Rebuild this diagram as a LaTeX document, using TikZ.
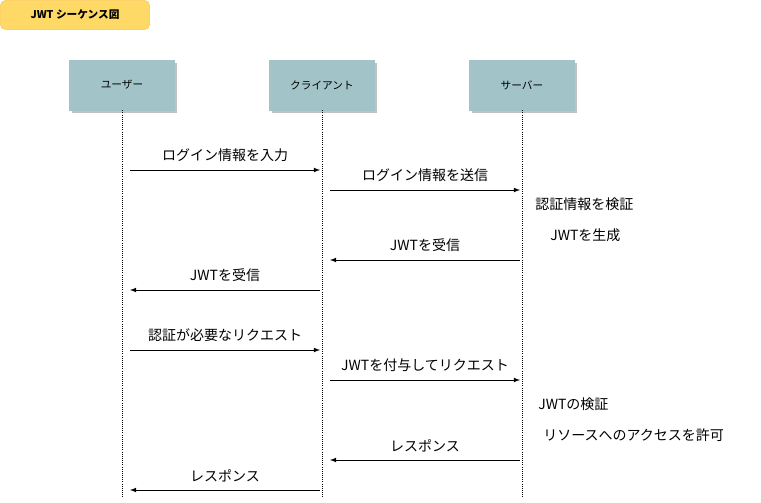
\documentclass[tikz,border=0pt]{standalone}
\usepackage{fontspec}
\setmainfont{Noto Sans CJK JP}
\usetikzlibrary{shadows}
\definecolor{part}{HTML}{A2C4C9}
\definecolor{ttl}{HTML}{FFD966}
\begin{document}
\begin{tikzpicture}[x=0.75pt,y=-0.75pt,
  partbox/.style={draw=part,fill=part,minimum width=78.75pt,minimum height=37.5pt,font=\fontsize{8}{9}\selectfont,drop shadow={shadow xshift=2pt,shadow yshift=-2pt,fill=black!40,opacity=0.6}},
  life/.style={densely dotted,line width=0.6pt},
  msg/.style={-latex,line width=0.6pt},
  lbl/.style={font=\fontsize{10.5}{12}\selectfont,inner sep=0pt},
  note/.style={font=\fontsize{10.5}{12}\selectfont,inner sep=0pt,anchor=west}]
\useasboundingbox (0,0) rectangle (761,503);
\node[fill=ttl,draw=ttl!80!orange,rounded corners=4pt,minimum width=112pt,minimum height=22pt,font=\bfseries\fontsize{8}{9}\selectfont] (title) at (75,15) {JWT シーケンス図};
\node[partbox] (u) at (122,85) {ユーザー};
\node[partbox] (c) at (322,85) {クライアント};
\node[partbox] (s) at (522,85) {サーバー};
\coordinate (ue) at (122,497);
\coordinate (ce) at (322,497);
\coordinate (se) at (522,497);
\draw[life] (u.south) -- (ue);
\draw[life] (c.south) -- (ce);
\draw[life] (s.south) -- (se);
% messages
\coordinate (a1) at (130,170); \coordinate (b1) at (320,170);
\draw[msg] (a1) -- node[lbl,above=6pt]{ログイン情報を入力} (b1);
\coordinate (a2) at (330,190); \coordinate (b2) at (520,190);
\draw[msg] (a2) -- node[lbl,above=6pt]{ログイン情報を送信} (b2);
\node[note] (n1) at (535,204) {認証情報を検証};
\node[note] (n2) at (550,235) {JWTを生成};
\coordinate (a3) at (520,260); \coordinate (b3) at (330,260);
\draw[msg] (a3) -- node[lbl,above=6pt]{JWTを受信} (b3);
\coordinate (a4) at (320,290); \coordinate (b4) at (130,290);
\draw[msg] (a4) -- node[lbl,above=6pt]{JWTを受信} (b4);
\coordinate (a5) at (130,350); \coordinate (b5) at (320,350);
\draw[msg] (a5) -- node[lbl,above=6pt]{認証が必要なリクエスト} (b5);
\coordinate (a6) at (330,380); \coordinate (b6) at (520,380);
\draw[msg] (a6) -- node[lbl,above=6pt]{JWTを付与してリクエスト} (b6);
\node[note] (n3) at (538,404) {JWTの検証};
\node[note] (n4) at (543,435) {リソースへのアクセスを許可};
\coordinate (a7) at (520,460); \coordinate (b7) at (330,460);
\draw[msg] (a7) -- node[lbl,above=6pt]{レスポンス} (b7);
\coordinate (a8) at (320,490); \coordinate (b8) at (130,490);
\draw[msg] (a8) -- node[lbl,above=6pt]{レスポンス} (b8);
\end{tikzpicture}
\end{document}
